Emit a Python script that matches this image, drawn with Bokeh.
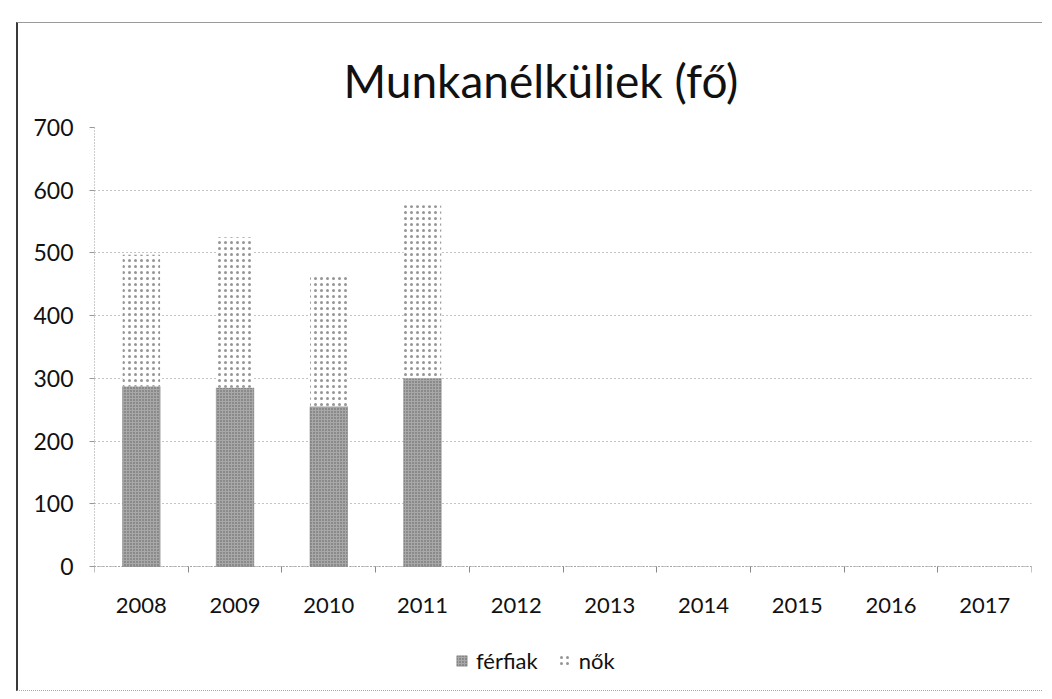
import numpy as np
from bokeh.plotting import figure
from bokeh.models import (Range1d, FixedTicker, Legend, LegendItem, ColumnDataSource, Title)
from bokeh.embed import file_html
from bokeh.resources import INLINE

years = ["2008", "2009", "2010", "2011", "2012", "2013", "2014", "2015", "2016", "2017"]
ferfiak = [287, 285, 255, 300]
nok = [210, 240, 207, 276]
y_ticks = [0, 100, 200, 300, 400, 500, 600, 700]

n = len(years)
xc = np.arange(n) + 0.5
k = len(ferfiak)
src = ColumnDataSource(dict(
    x=xc[:k],
    men=ferfiak,
    women_bottom=ferfiak,
    women_top=[a + b for a, b in zip(ferfiak, nok)],
))

FONT = "Lato"

# layout (page pixels)
FIG_X, FIG_Y = 18, 23
FRAME_L, FRAME_R, FRAME_T = 94, 1031, 127
ZERO_Y, FRAME_B = 566, 686
W = 1044 - FIG_X
H = 692 - FIG_Y
px_per_unit = (ZERO_Y - FRAME_T) / 700.0
y_start = -(FRAME_B - ZERO_Y) / px_per_unit

p = figure(width=W, height=H, output_backend="svg", toolbar_location=None,
           x_range=Range1d(0, n), y_range=Range1d(y_start, 700),
           min_border_left=FRAME_L - FIG_X, min_border_right=W - (FRAME_R - FIG_X),
           min_border_top=FRAME_T - FIG_Y, min_border_bottom=H - (FRAME_B - FIG_Y))
p.margin = (FIG_Y - 1, 0, 0, FIG_X - 2)
p.styles = {"border-left": "2px solid #3a3a3a", "border-top": "1px solid #9a9a9a",
            "border-bottom": "1px dotted #aaaaaa"}
p.outline_line_color = None
p.background_fill_color = "white"
p.border_fill_color = "white"

p.title = Title(text="Munkanélküliek (fő)", align="left", offset=343 - FRAME_L,
                text_font=FONT, text_font_size="46px", text_font_style="normal",
                text_color="#111111", standoff=39)

r1 = p.vbar(x="x", top="men", bottom=0, width=0.4, source=src,
            fill_color="#a8a8a8", line_color="#777777", line_width=0.5,
            hatch_pattern="dot", hatch_color="#4a4a4a", hatch_scale=3, hatch_alpha=0.8)
r2 = p.vbar(x="x", top="women_top", bottom="women_bottom", width=0.4, source=src,
            fill_color="white", line_color=None,
            hatch_pattern="dot", hatch_color="#8a8a8a", hatch_scale=6, hatch_alpha=0.9)

# x axis pinned at zero
xa = p.xaxis[0]
xa.fixed_location = 0
xa.ticker = FixedTicker(ticks=list(xc), minor_ticks=list(range(n + 1)))
xa.major_label_overrides = {float(v): y for v, y in zip(xc, years)}
xa.major_tick_line_color = None
xa.minor_tick_line_color = "#888888"
xa.minor_tick_out = 6
xa.minor_tick_in = 0
xa.axis_line_color = "#888888"
xa.axis_line_dash = "1 2"
xa.major_label_text_font = FONT
xa.major_label_text_font_size = "22px"
xa.major_label_text_color = "#111111"
xa.major_label_standoff = 25

ya = p.yaxis[0]
ya.ticker = FixedTicker(ticks=y_ticks)
ya.bounds = (0, 700)
ya.axis_line_color = "#999999"
ya.axis_line_dash = "1 2"
ya.major_tick_line_color = "#999999"
ya.major_tick_out = 5
ya.major_tick_in = 0
ya.minor_tick_line_color = None
ya.major_label_text_font = FONT
ya.major_label_text_font_size = "23px"
ya.major_label_text_color = "#111111"
ya.major_label_standoff = 16

p.xgrid.grid_line_color = None
p.ygrid.grid_line_color = "#888888"
p.ygrid.grid_line_dash = "1 3"
p.ygrid.grid_line_width = 1

legend = Legend(items=[LegendItem(label="férfiak", renderers=[r1]),
                       LegendItem(label="nők", renderers=[r2])],
                orientation="horizontal", location=(455 - FRAME_L, FRAME_B - 674),
                label_text_font=FONT, label_text_font_size="22px",
                label_text_color="#111111", padding=0, margin=0,
                glyph_width=13, glyph_height=13, spacing=20, label_standoff=8,
                border_line_color=None, background_fill_alpha=0)
p.add_layout(legend)

open("out.html", "w").write(file_html(p, INLINE))
